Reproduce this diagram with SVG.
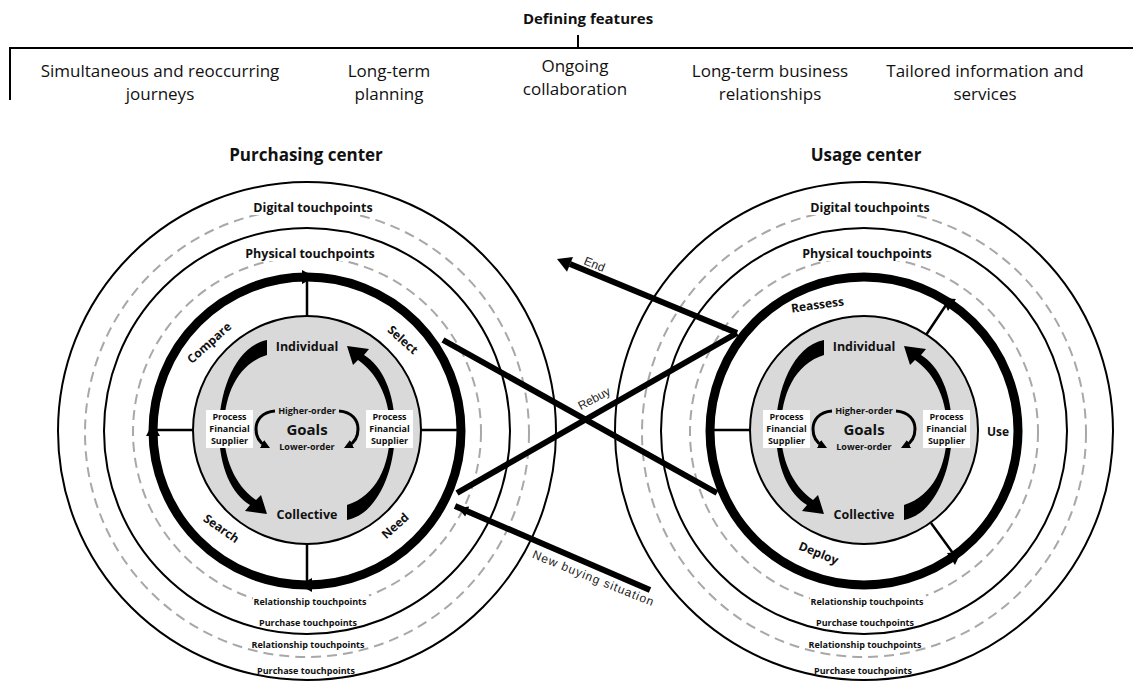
<svg xmlns="http://www.w3.org/2000/svg" width="1133" height="681" viewBox="0 0 1133 681">
<defs>
<style>
.thin{fill:none;stroke:#000;stroke-width:2}
.dash{fill:none;stroke:#a8a8a8;stroke-width:2;stroke-dasharray:10 6}
.thick{fill:none;stroke:#000;stroke-width:9}
.core{fill:#d9d9d9;stroke:#000;stroke-width:2}
.spoke{stroke:#000;stroke-width:2.5}
.hdr{font-family:"Open Sans","Liberation Sans",sans-serif;font-size:17px;fill:#111;text-anchor:middle}
.title{font-family:"Open Sans","Liberation Sans",sans-serif;font-size:17px;font-weight:bold;fill:#111;text-anchor:middle}
.tp{font-family:"Open Sans","Liberation Sans",sans-serif;font-size:12.5px;font-weight:bold;fill:#111;text-anchor:middle}
.tps{font-family:"Open Sans","Liberation Sans",sans-serif;font-size:9px;font-weight:bold;fill:#111;text-anchor:middle}
.stage{font-family:"Open Sans","Liberation Sans",sans-serif;font-size:12px;font-weight:bold;fill:#111;text-anchor:middle}
.lvl{font-family:"Open Sans","Liberation Sans",sans-serif;font-size:12.5px;font-weight:bold;fill:#111;text-anchor:middle}
.goal{font-family:"Open Sans","Liberation Sans",sans-serif;font-size:15px;font-weight:bold;fill:#111;text-anchor:middle}
.ord{font-family:"Open Sans","Liberation Sans",sans-serif;font-size:9px;font-weight:bold;fill:#111;text-anchor:middle}
.box{font-family:"Open Sans","Liberation Sans",sans-serif;font-size:9px;font-weight:bold;fill:#111;text-anchor:middle}
.lbl{font-family:"Liberation Sans",Arial,sans-serif;font-size:12px;fill:#222;text-anchor:middle}
.cross{stroke:#000;stroke-width:6;stroke-linecap:butt}
.ga{fill:none;stroke:#000;stroke-width:3}
</style>
<marker id="ah" viewBox="0 0 10 10" refX="5" refY="5" markerWidth="3" markerHeight="3" orient="auto" markerUnits="strokeWidth">
<path d="M0,0 L10,5 L0,10 z" fill="#000"/>
</marker>
<path id="cres" d="M 267 340 C 236 346, 219 390, 219 430 C 219 468, 232 494, 250 505 L 245 511 L 267 514 L 261 495 L 256 500 C 240 489, 224 466, 224 430 C 224 394, 238 364, 267 355 Z" fill="#000"/>
<g id="core">
<circle cx="307" cy="430" r="114" class="core"/>
<use href="#cres"/>
<use href="#cres" transform="rotate(180 307 430)"/>
<path class="ga" d="M 275 411 C 262 412, 256 420, 256 429 C 256 437, 260 443, 266 446" marker-end="url(#ah)"/>
<path class="ga" d="M 275 411 C 262 412, 256 420, 256 429 C 256 437, 260 443, 266 446" marker-end="url(#ah)" transform="translate(614,0) scale(-1,1)"/>
<rect x="206" y="410" width="47" height="38" fill="#fff"/>
<rect x="366" y="410" width="47" height="38" fill="#fff"/>
<text class="box" x="229.5" y="420">Process</text>
<text class="box" x="229.5" y="432">Financial</text>
<text class="box" x="229.5" y="444">Supplier</text>
<text class="box" x="389.5" y="420">Process</text>
<text class="box" x="389.5" y="432">Financial</text>
<text class="box" x="389.5" y="444">Supplier</text>
<text class="lvl" x="307" y="351">Individual</text>
<text class="lvl" x="307" y="519">Collective</text>
<text class="goal" x="307" y="435">Goals</text>
<text class="ord" x="307" y="414">Higher-order</text>
<text class="ord" x="307" y="450">Lower-order</text>
</g>
<g id="rings">
<circle cx="307" cy="431" r="249" class="thin"/>
<ellipse cx="307" cy="433" rx="222" ry="224" class="dash"/>
<circle cx="307" cy="431" r="203" class="thin"/>
<ellipse cx="307" cy="432" rx="174" ry="175" class="dash"/>
<rect x="245" y="199" width="136" height="16" fill="#fff"/>
<rect x="238" y="245" width="144" height="16" fill="#fff"/>
<rect x="253" y="595" width="116" height="13" fill="#fff"/>
<text class="tp" x="313" y="212">Digital touchpoints</text>
<text class="tp" x="310" y="258">Physical touchpoints</text>
<text class="tps" x="310" y="605">Relationship touchpoints</text>
<text class="tps" x="308" y="626">Purchase touchpoints</text>
<text class="tps" x="308" y="648">Relationship touchpoints</text>
<text class="tps" x="306" y="674">Purchase touchpoints</text>
</g>
</defs>

<g id="header">
<text x="588" y="24" font-family="Open Sans, Liberation Sans, sans-serif" font-size="15" font-weight="bold" fill="#111" text-anchor="middle">Defining features</text>
<path d="M578 35 V48 M10 100 V48 H1133" fill="none" stroke="#000" stroke-width="2"/>
<text class="hdr" x="160" y="77">Simultaneous and reoccurring</text>
<text class="hdr" x="160" y="100">journeys</text>
<text class="hdr" x="389" y="77">Long-term</text>
<text class="hdr" x="389" y="100">planning</text>
<text class="hdr" x="575" y="72">Ongoing</text>
<text class="hdr" x="575" y="95">collaboration</text>
<text class="hdr" x="770" y="77">Long-term business</text>
<text class="hdr" x="770" y="100">relationships</text>
<text class="hdr" x="985" y="77">Tailored information and</text>
<text class="hdr" x="985" y="100">services</text>
</g>

<g id="purchasing-center">
<text class="title" x="306" y="161">Purchasing center</text>
<use href="#rings"/>
<circle cx="307" cy="431" r="154" class="thick"/>
<use href="#core"/>
<path class="spoke" d="M307 316 V277 M307 544 V585 M193 430 H153 M421 430 H461"/>
<polygon points="315,277 302,270 302,284"/>
<polygon points="153,423 146,436 160,436"/>
<polygon points="299,585 312,578 312,592"/>
<text class="stage" transform="translate(212 346) rotate(-42)">Compare</text>
<text class="stage" transform="translate(400 343) rotate(42)">Select</text>
<text class="stage" transform="translate(219 532) rotate(35)">Search</text>
<text class="stage" transform="translate(398 529) rotate(-42)">Need</text>
</g>

<g id="usage-center">
<text class="title" x="866" y="161">Usage center</text>
<use href="#rings" transform="translate(557 0)"/>
<circle cx="864" cy="431" r="154" class="thick"/>
<use href="#core" transform="translate(557 0)"/>
<path class="spoke" d="M750 430 H710 M926 335 L948 302 M931 523 L955 556"/>
<polygon points="942,298 956,299 948,311"/>
<polygon points="961,552 955,565 947,553"/>
<text class="stage" transform="translate(818 309) rotate(-8)">Reassess</text>
<text class="stage" x="998" y="436">Use</text>
<text class="stage" transform="translate(817 557) rotate(22)">Deploy</text>
</g>

<g id="connectors">
<line class="cross" x1="443" y1="340" x2="717" y2="493"/>
<line class="cross" x1="737" y1="333" x2="457" y2="493"/>
<line class="cross" x1="737" y1="333" x2="570" y2="264" stroke-width="7"/>
<polygon points="557,259 573,256.9 567,271.7"/>
<line class="cross" x1="650" y1="590" x2="455" y2="506" stroke-width="6"/>
<polygon points="458,508 469.2,506.5 465.2,516.5"/>
<text class="lbl" transform="translate(593 268) rotate(22)">End</text>
<text class="lbl" transform="translate(596 402) rotate(-28)">Rebuy</text>
<text class="lbl" letter-spacing="1" transform="translate(592 582) rotate(22)">New buying  situation</text>
</g>
</svg>
